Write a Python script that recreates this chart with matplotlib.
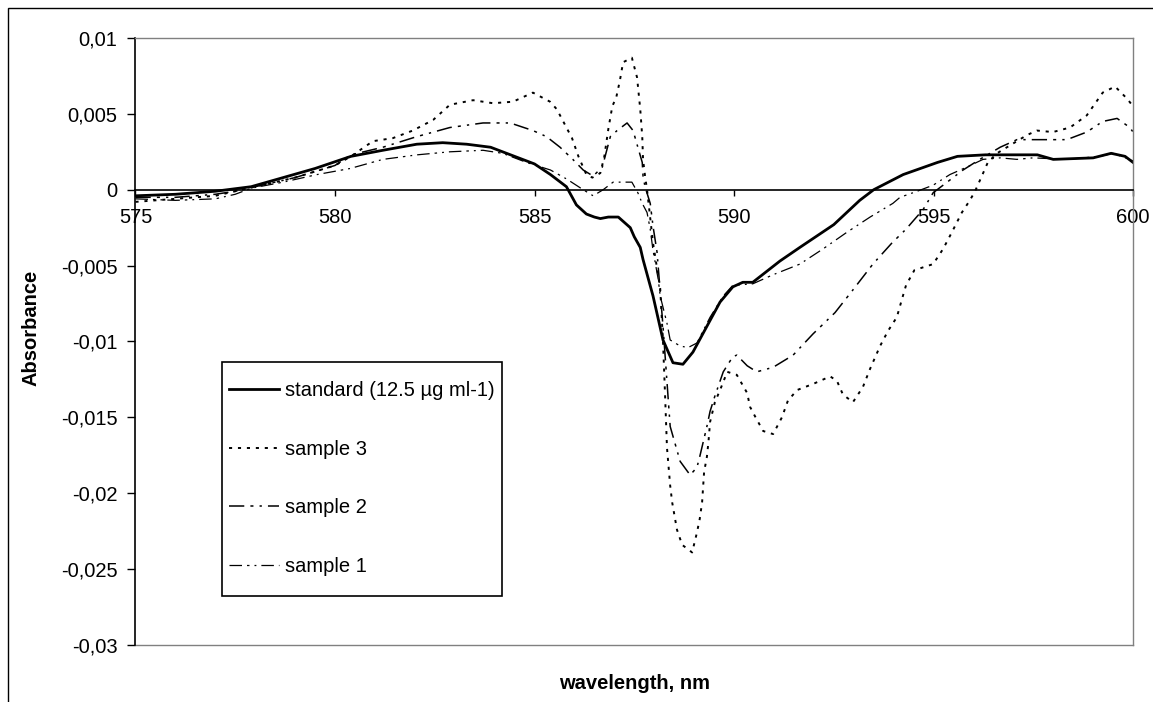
# plot.py - derivative absorbance spectra, standard vs samples

import matplotlib.pyplot as plt
from matplotlib.patches import Rectangle

# Data

wl_std = [575.0, 576.0, 577.0, 577.9, 578.7, 579.5, 580.4, 581.2, 582.05, 582.7,
          583.3, 583.9, 584.4, 585.0, 585.4, 585.8, 586.05, 586.3, 586.5, 586.65,
          586.85, 587.1, 587.4, 587.5, 587.65, 587.72, 587.97, 588.22, 588.47, 588.72,
          588.97, 589.32, 589.65, 589.97, 590.22, 590.47, 591.15, 591.65, 592.5, 593.15,
          593.5, 594.24, 595.1, 595.6, 596.3, 597.6, 598.0, 599.0, 599.45, 599.8, 600.0]
abs_std = [-0.0004, -0.0003, -0.0001, 0.0002, 0.0008, 0.0014, 0.0022, 0.0026, 0.0030, 0.0031,
           0.0030, 0.0028, 0.0023, 0.0017, 0.0010, 0.0002, -0.0010, -0.0016, -0.0018, -0.0019,
           -0.0018, -0.0018, -0.0025, -0.0031, -0.0038, -0.0046, -0.0070, -0.0099, -0.0114, -0.0115,
           -0.0107, -0.0090, -0.0074, -0.0064, -0.0061, -0.0061, -0.0047, -0.0038, -0.0023, -0.0007,
           0.0000, 0.0010, 0.0018, 0.0022, 0.0023, 0.0023, 0.0020, 0.0021, 0.0024, 0.0022, 0.0018]

wl_s3 = [575.0, 576.0, 577.0, 577.5, 578.0, 579.0, 580.0, 580.4, 580.95, 581.45,
         581.95, 582.46, 582.88, 583.46, 583.96, 584.46, 584.96, 585.39, 585.56, 585.76,
         585.94, 586.1, 586.3, 586.45, 586.65, 586.75, 586.85, 586.95, 587.05, 587.14,
         587.22, 587.44, 587.57, 587.65, 587.7, 587.72, 587.77, 587.82, 587.97, 588.15,
         588.22, 588.27, 588.32, 588.4, 588.45, 588.57, 588.7, 588.95, 589.07, 589.14,
         589.2, 589.25, 589.32, 589.36, 589.4, 589.52, 589.65, 589.83, 590.07, 590.33,
         590.4, 590.52, 590.73, 590.98, 591.2, 591.35, 591.58, 591.98, 592.41, 592.58,
         592.73, 592.98, 593.23, 593.41, 593.66, 593.86, 594.08, 594.21, 594.31, 594.52,
         594.99, 595.24, 595.46, 595.71, 595.91, 596.04, 596.21, 596.36, 596.59, 596.84,
         597.09, 597.34, 597.59, 597.99, 598.42, 598.84, 599.24, 599.55, 599.85, 600.0]
abs_s3 = [-0.0008, -0.0006, -0.0004, -0.0001, 0.0002, 0.0008, 0.0016, 0.0022, 0.0032, 0.0034,
          0.0039, 0.0046, 0.0056, 0.0059, 0.0057, 0.0058, 0.0064, 0.0058, 0.0053, 0.0043,
          0.0034, 0.0022, 0.0010, 0.0008, 0.0011, 0.0022, 0.0040, 0.0055, 0.0061, 0.0072,
          0.0084, 0.0087, 0.0074, 0.0053, 0.0035, 0.0020, 0.0009, 0.0000, -0.0035, -0.0065,
          -0.0100, -0.0134, -0.0170, -0.0195, -0.0206, -0.0224, -0.0234, -0.0239, -0.0226, -0.0217,
          -0.0206, -0.0186, -0.0176, -0.0166, -0.0153, -0.0140, -0.0132, -0.0120, -0.0122, -0.0134,
          -0.0143, -0.0149, -0.0159, -0.0161, -0.0150, -0.0139, -0.0132, -0.0128, -0.0123, -0.0126,
          -0.0135, -0.0140, -0.0130, -0.0118, -0.0103, -0.0093, -0.0084, -0.0072, -0.0063, -0.0053,
          -0.0049, -0.0039, -0.0028, -0.0015, -0.0007, -0.0001, 0.0009, 0.0018, 0.0024, 0.0028,
          0.0032, 0.0036, 0.0039, 0.0038, 0.0041, 0.0049, 0.0064, 0.0068, 0.0060, 0.0055]

wl_s2 = [575.0, 576.0, 577.0, 577.5, 578.0, 579.0, 580.0, 580.4, 581.2, 582.05,
         582.88, 583.71, 584.39, 584.96, 585.3, 585.64, 585.96, 586.22, 586.47, 586.7,
         586.9, 587.07, 587.32, 587.47, 587.59, 587.7, 587.72, 587.77, 587.9, 587.97,
         588.07, 588.22, 588.4, 588.65, 588.9, 589.07, 589.14, 589.32, 589.4, 589.52,
         589.73, 589.97, 590.07, 590.33, 590.57, 590.98, 591.48, 591.98, 592.53, 592.98,
         593.48, 593.96, 594.31, 594.74, 594.99, 595.34, 595.74, 596.16, 596.67, 597.09,
         597.84, 598.34, 598.84, 599.24, 599.6, 599.92, 600.0]
abs_s2 = [-0.0005, -0.0005, -0.0003, -0.0001, 0.0002, 0.0008, 0.0016, 0.0023, 0.0028, 0.0035,
          0.0041, 0.0044, 0.0044, 0.0039, 0.0035, 0.0028, 0.0020, 0.0013, 0.0009, 0.0015,
          0.0035, 0.0039, 0.0044, 0.0039, 0.0028, 0.0018, 0.0009, 0.0002, -0.0009, -0.0024,
          -0.0041, -0.0090, -0.0156, -0.0179, -0.0188, -0.0183, -0.0176, -0.0156, -0.0146, -0.0136,
          -0.0120, -0.0110, -0.0109, -0.0116, -0.0120, -0.0117, -0.0109, -0.0095, -0.0081, -0.0066,
          -0.0049, -0.0035, -0.0026, -0.0013, -0.0002, 0.0005, 0.0013, 0.0020, 0.0028, 0.0033,
          0.0033, 0.0033, 0.0038, 0.0045, 0.0047, 0.0041, 0.0038]

wl_s1 = [575.0, 576.0, 577.0, 577.5, 577.9, 578.7, 579.55, 580.38, 581.2, 582.06,
         582.88, 583.71, 584.2, 584.8, 585.4, 585.81, 586.22, 586.47, 586.72, 586.97,
         587.3, 587.44, 587.59, 587.7, 587.82, 587.9, 587.97, 588.1, 588.15, 588.32,
         588.4, 588.65, 588.85, 589.07, 589.4, 589.73, 589.97, 590.47, 590.98, 591.65,
         592.23, 592.83, 593.41, 593.98, 594.16, 594.59, 594.99, 595.41, 595.84, 596.24,
         596.67, 597.09, 597.49, 598.34, 599.17, 599.5, 599.92, 600.0]
abs_s1 = [-0.0006, -0.0007, -0.0006, -0.0003, 0.0001, 0.0005, 0.0010, 0.0014, 0.0020, 0.0023,
          0.0025, 0.0026, 0.0024, 0.0018, 0.0013, 0.0007, 0.0000, -0.0004, 0.0000, 0.0005,
          0.0005, 0.0005, -0.0002, -0.0009, -0.0015, -0.0026, -0.0040, -0.0059, -0.0070, -0.0088,
          -0.0099, -0.0103, -0.0104, -0.0101, -0.0084, -0.0070, -0.0063, -0.0062, -0.0056, -0.0049,
          -0.0039, -0.0028, -0.0018, -0.0009, -0.0005, -0.0001, 0.0003, 0.0010, 0.0015, 0.0020,
          0.0021, 0.0020, 0.0021, 0.0020, 0.0022, 0.0024, 0.0020, 0.0019]

x_ticks = [575, 580, 585, 590, 595, 600]
y_ticks = [-0.03, -0.025, -0.02, -0.015, -0.01, -0.005, 0, 0.005, 0.01]
y_tick_labels = ['-0,03', '-0,025', '-0,02', '-0,015', '-0,01', '-0,005', '0', '0,005', '0,01']

# Figure

plt.rcParams['font.family'] = ['Liberation Sans', 'DejaVu Sans']
fs = 14.5

fig = plt.figure(figsize=(11.53, 7.02), dpi=100)
ax = fig.add_axes([0.1175, 0.0812, 0.8652, 0.8647])

ax.plot(wl_std, abs_std, color='black', lw=2.0, label='standard (12.5 µg ml-1)')
ax.plot(wl_s3, abs_s3, color='black', lw=1.4, dashes=(1.6, 3.0), label='sample 3')
ax.plot(wl_s2, abs_s2, color='black', lw=1.1, dashes=(10, 4, 2, 4, 1.5, 4), label='sample 2')
ax.plot(wl_s1, abs_s1, color='black', lw=0.9, dashes=(10, 4, 2, 4, 1.5, 4), label='sample 1')

ax.set_xlim(575, 600)
ax.set_ylim(-0.03, 0.01)
ax.set_xticks(x_ticks)
ax.set_yticks(y_ticks)
ax.set_yticklabels(y_tick_labels)

# axes look (Excel style)
ax.spines['bottom'].set_position(('data', 0))
ax.spines['bottom'].set_color('black')
ax.spines['left'].set_color('black')
ax.spines['bottom'].set_linewidth(1.2)
ax.spines['left'].set_linewidth(1.2)
for s in ['top', 'right']:
    ax.spines[s].set_color('#808080')
    ax.spines[s].set_linewidth(1.0)
ax.axhline(-0.03, color='#808080', lw=1.0, clip_on=False)

ax.tick_params(axis='x', direction='out', length=4, width=1, pad=9, labelsize=fs)
ax.tick_params(axis='y', direction='out', length=6, width=1, pad=7, labelsize=fs)

ax.set_xlabel('wavelength, nm', fontsize=fs, fontweight='bold', va='center')
ax.xaxis.set_label_coords(0.5, -0.063)
ax.set_ylabel('Absorbance', fontsize=fs, fontweight='bold', va='center')
ax.yaxis.set_label_coords(-0.1043, 0.522)

# legend entries without frame, box drawn separately (Excel keeps wider top/bottom margins)
leg = ax.legend(loc='upper left', bbox_to_anchor=(0.0867, 0.4465), borderaxespad=0,
                fontsize=fs, frameon=False,
                handlelength=2.5, handletextpad=0.3, borderpad=0.35, labelspacing=1.97)
ax.add_patch(Rectangle((0.0867, 0.0807), 0.2807, 0.3855, transform=ax.transAxes,
                       fill=False, edgecolor='black', lw=1.2, zorder=5))

# outer chart border (cut at right and bottom)
fig.patches.append(Rectangle((8 / 1153, -0.1), 1.2, 1.1 - 8 / 702, transform=fig.transFigure,
                             fill=False, edgecolor='black', lw=1.0))

fig.savefig('out.png', dpi=100)
